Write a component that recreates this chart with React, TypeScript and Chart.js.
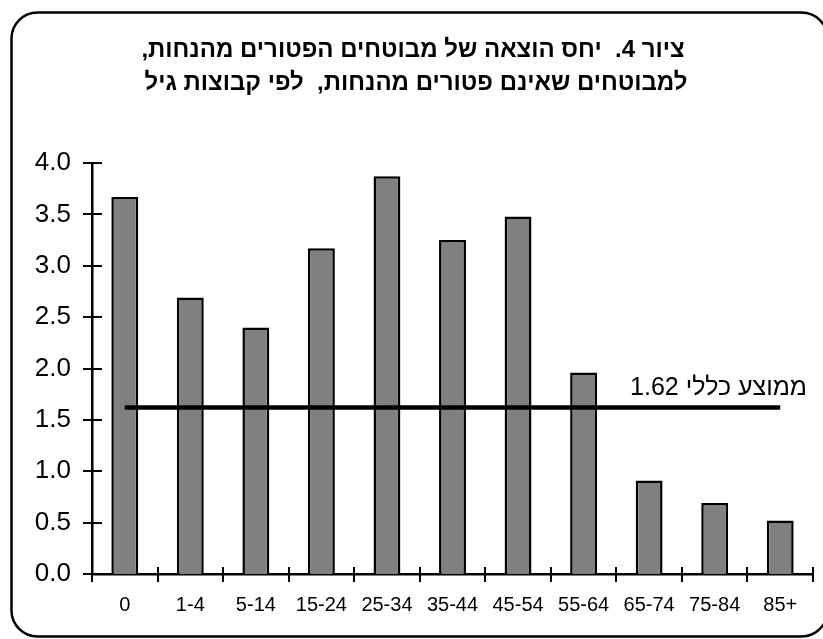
import React, { useEffect, useRef } from "react";
import { Chart, registerables } from "chart.js";

Chart.register(...registerables);

const categories = ["0", "1-4", "5-14", "15-24", "25-34", "35-44", "45-54", "55-64", "65-74", "75-84", "85+"];
const ratioValues = [3.67, 2.69, 2.4, 3.17, 3.87, 3.25, 3.48, 1.96, 0.91, 0.69, 0.52];
const overallAverage = 1.62;
const averageValues = categories.map(() => overallAverage);
const titleLines = ["ציור 4.  יחס הוצאה של מבוטחים הפטורים מהנחות,", "למבוטחים שאינם פטורים מהנחות,  לפי קבוצות גיל"];
const averageLabel = "ממוצע כללי " + overallAverage.toFixed(2);
const yTicks = [0, 0.5, 1, 1.5, 2, 2.5, 3, 3.5, 4];

const FONT = "'Liberation Sans', Arial, sans-serif";

const decorPlugin = {
  id: "decor",
  beforeDraw(chart: any) {
    const ctx = chart.ctx;
    ctx.save();
    ctx.fillStyle = "#ffffff";
    ctx.fillRect(0, 0, chart.width, chart.height);
    ctx.beginPath();
    ctx.lineWidth = 2.5;
    ctx.strokeStyle = "#000";
    ctx.roundRect(11.5, 12.5, 816, 624, 26);
    ctx.stroke();
    ctx.restore();
  },
  afterDraw(chart: any) {
    const ctx = chart.ctx;
    const xs = chart.scales.x;
    const ys = chart.scales.y;
    const area = chart.chartArea;
    ctx.save();
    ctx.strokeStyle = "#000";
    ctx.lineWidth = 2;
    for (const v of yTicks) {
      const y = Math.round(ys.getPixelForValue(v));
      ctx.beginPath();
      ctx.moveTo(area.left - 9, y);
      ctx.lineTo(area.left + 10, y);
      ctx.stroke();
    }
    const n = categories.length;
    const step = xs.getPixelForValue(1) - xs.getPixelForValue(0);
    for (let i = 0; i <= n; i++) {
      const x = i === n ? xs.getPixelForValue(n - 1) + step / 2 : xs.getPixelForValue(i) - step / 2;
      const xr = Math.round(x);
      ctx.beginPath();
      ctx.moveTo(xr, area.bottom - 7);
      ctx.lineTo(xr, area.bottom + 8);
      ctx.stroke();
    }
    ctx.fillStyle = "#000";
    ctx.direction = "rtl";
    ctx.font = "bold 24px " + FONT;
    ctx.textAlign = "center";
    ctx.textBaseline = "alphabetic";
    ctx.fillText(titleLines[0], 413, 57);
    ctx.fillText(titleLines[1], 416, 90);
    ctx.font = "25px " + FONT;
    ctx.textAlign = "right";
    ctx.fillText(averageLabel, 807, ys.getPixelForValue(overallAverage) - 13);
    ctx.restore();
  },
};

export default function App() {
  const ref = useRef<HTMLCanvasElement | null>(null);
  useEffect(() => {
    if (!ref.current) return;
    const chart = new Chart(ref.current, {
      type: "bar",
      data: {
        labels: categories,
        datasets: [
          {
            type: "line" as any,
            label: "average",
            data: averageValues,
            borderColor: "#000",
            borderWidth: 4.5,
            pointRadius: 0,
            fill: false,
            order: 0,
          },
          {
            type: "bar",
            label: "ratio",
            data: ratioValues,
            backgroundColor: "#808080",
            borderColor: "#000",
            borderWidth: 2.5,
            barPercentage: 0.41,
            categoryPercentage: 1,
            order: 1,
          },
        ],
      },
      options: {
        responsive: false,
        animation: false,
        events: [],
        layout: { padding: { top: 163, right: 10, left: 0, bottom: 0 } },
        plugins: {
          legend: { display: false },
          title: { display: false },
          tooltip: { enabled: false },
        },
        scales: {
          x: {
            grid: { display: false, drawTicks: false },
            border: { display: true, color: "#000", width: 2.5 },
            ticks: { color: "#000", font: { family: FONT, size: 20 }, padding: 19, maxRotation: 0, autoSkip: false },
            afterFit: (s: any) => { s.height = 65; },
          },
          y: {
            min: 0,
            max: 4,
            grid: { display: false, drawTicks: false },
            border: { display: true, color: "#000", width: 2.5 },
            ticks: {
              stepSize: 0.5,
              color: "#000",
              font: { family: FONT, size: 26 },
              padding: 21,
              callback: (v: any) => Number(v).toFixed(1),
            },
            afterFit: (s: any) => { s.width = 92; },
          },
        },
      },
      plugins: [decorPlugin],
    });
    return () => chart.destroy();
  }, []);
  return (
    <div style={{ position: "absolute", left: 0, top: 0, width: 823, height: 639 }}>
      <canvas ref={ref} width={823} height={639} style={{ display: "block" }} />
    </div>
  );
}
